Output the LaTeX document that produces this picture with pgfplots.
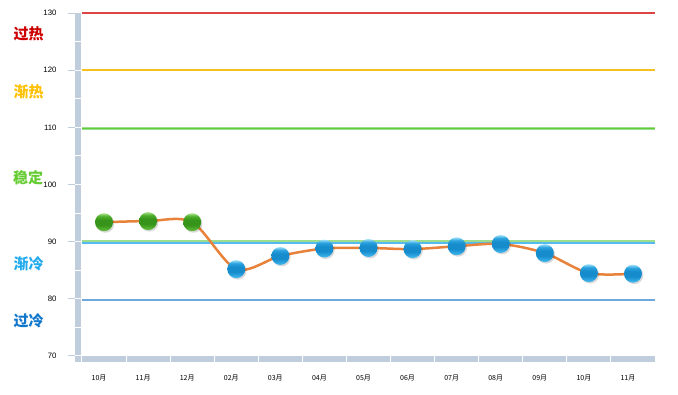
\documentclass[border=0pt]{standalone}
\usepackage{fontspec}
\setmainfont{Liberation Sans}
\newfontfamily\cjk{Noto Sans CJK SC}
\usepackage{pgfplots}
\pgfplotsset{compat=1.18}
\definecolor{barc}{HTML}{BFCDDC}
\definecolor{lred}{HTML}{DD4444}
\definecolor{lyel}{HTML}{F5C020}
\definecolor{lgrn}{HTML}{5FCC3A}
\definecolor{lgrn2}{HTML}{9EDC8E}
\definecolor{lblu}{HTML}{55BBEE}
\definecolor{lblu2}{HTML}{6FA8DC}
\definecolor{orng}{HTML}{E8823A}
\definecolor{tred}{HTML}{CC0000}
\definecolor{tyel}{HTML}{FFC000}
\definecolor{tgrn}{HTML}{66CC33}
\definecolor{tblu}{HTML}{22AAEE}
\definecolor{tblu2}{HTML}{1177CC}
\definecolor{bBot}{HTML}{44BCF2}
\definecolor{bMid}{HTML}{168CCC}
\definecolor{bUp}{HTML}{2AA2DE}
\definecolor{bTop}{HTML}{A0E0FA}
\definecolor{gBot}{HTML}{66C23E}
\definecolor{gMid}{HTML}{36941A}
\definecolor{gUp}{HTML}{4CAE2A}
\definecolor{gTop}{HTML}{A8E086}
\pgfdeclareverticalshading{bsh}{100bp}{color(0bp)=(bBot); color(25bp)=(bBot); color(42bp)=(bMid); color(56bp)=(bMid); color(66bp)=(bUp); color(75bp)=(bTop); color(100bp)=(bTop)}
\pgfdeclareverticalshading{gsh}{100bp}{color(0bp)=(gBot); color(25bp)=(gBot); color(42bp)=(gMid); color(56bp)=(gMid); color(66bp)=(gUp); color(75bp)=(gTop); color(100bp)=(gTop)}
\def\defball#1#2{%
\pgfdeclareplotmark{#1}{%
 \begin{pgfscope}%
 \pgfpathcircle{\pgfpoint{1.3pt}{-1.5pt}}{\pgfplotmarksize}\pgfsetfillcolor{black}\pgfsetfillopacity{0.15}\pgfusepath{fill}%
 \end{pgfscope}%
 \begin{pgfscope}%
 \pgfpathcircle{\pgfpointorigin}{\pgfplotmarksize}\pgfshadepath{#2}{0}\pgfusepath{discard}%
 \end{pgfscope}}}
\defball{bball}{bsh}
\defball{gball}{gsh}
\pgfplotstableread{
x y
0 93.4
1 93.6
2 93.4
3 85.2
4 87.5
5 88.8
6 88.9
7 88.7
8 89.2
9 89.6
10 88.0
11 84.5
12 84.4
}\datatab
\pgfplotstableread{
x y
0 93.4
1 93.6
2 93.4
}\greentab
\pgfplotstableread{
x y
3 85.2
4 87.5
5 88.8
6 88.9
7 88.7
8 89.2
9 89.6
10 88.0
11 84.5
12 84.4
}\bluetab
\begin{document}
\begin{tikzpicture}[x=1pt,y=1pt]
\path[use as bounding box] (0,0) rectangle (678,394);
\begin{axis}[at={(82pt,38pt)}, anchor=south west, scale only axis,
  width=573pt, height=343pt,
  xmin=-0.5, xmax=12.5, ymin=70, ymax=130, clip=false,
  axis line style={draw=none}, major tick style={draw=none},
  xtick={0,...,12},
  xticklabels={10月,11月,12月,02月,03月,04月,05月,06月,07月,08月,09月,10月,11月},
  ytick={70,80,...,130},
  /pgf/number format/assume math mode=true,
  yticklabel style={font=\fontsize{7.8}{8}\selectfont, xshift=-22pt},
  xticklabel style={font=\cjk\fontsize{7}{8}\selectfont, yshift=-15pt, xshift=-5pt},
]
% gray bars
\fill[barc] (axis cs:-0.6588,68.95) rectangle (axis cs:-0.5227,130);
\fill[barc] (axis cs:-0.5,68.863) rectangle (axis cs:12.5,70);
\pgfplotsinvokeforeach{0,...,13}{
  \draw[white, line width=1pt] (axis cs:#1-0.5,68.8) -- (axis cs:#1-0.5,70);
}
\pgfplotsinvokeforeach{70,75,...,125}{
  \draw[white, line width=1pt] (axis cs:-0.66,#1) -- (axis cs:-0.5,#1);
}
\pgfplotsinvokeforeach{70,80,...,130}{
  \draw[barc, line width=1pt] (axis cs:-0.8176,#1) -- (axis cs:-0.6588,#1);
}
% reference lines
\draw[lred, line width=1.5pt] (axis cs:-0.5,130) -- (axis cs:12.5,130);
\draw[lyel, line width=1.8pt] (axis cs:-0.5,120) -- (axis cs:12.5,120);
\draw[lgrn2, line width=2.5pt] (axis cs:-0.5,109.8) -- (axis cs:12.5,109.8);
\draw[lgrn, line width=1.2pt] (axis cs:-0.5,109.8) -- (axis cs:12.5,109.8);
\draw[lgrn2, line width=2pt] (axis cs:-0.5,90.2) -- (axis cs:12.5,90.2);
\draw[lblu, line width=1.8pt] (axis cs:-0.5,89.8) -- (axis cs:12.5,89.8);
\draw[lblu2, line width=1.8pt] (axis cs:-0.5,79.8) -- (axis cs:12.5,79.8);
% data
\addplot[orng, line width=2.5pt, smooth, tension=0.5, no marks] table[x=x,y=y] {\datatab};
\addplot[only marks, mark=gball, mark size=9pt] table[x=x,y=y] {\greentab};
\addplot[only marks, mark=bball, mark size=9pt] table[x=x,y=y] {\bluetab};
\end{axis}
\node[font=\cjk\bfseries\fontsize{15}{15}\selectfont, text=tred] at (28.5,360.5) {过热};
\node[font=\cjk\bfseries\fontsize{15}{15}\selectfont, text=tyel] at (28.5,302.5) {渐热};
\node[font=\cjk\bfseries\fontsize{15}{15}\selectfont, text=tgrn] at (28,216) {稳定};
\node[font=\cjk\bfseries\fontsize{15}{15}\selectfont, text=tblu] at (28.5,130) {渐冷};
\node[font=\cjk\bfseries\fontsize{15}{15}\selectfont, text=tblu2] at (28.5,73) {过冷};
\end{tikzpicture}
\end{document}
